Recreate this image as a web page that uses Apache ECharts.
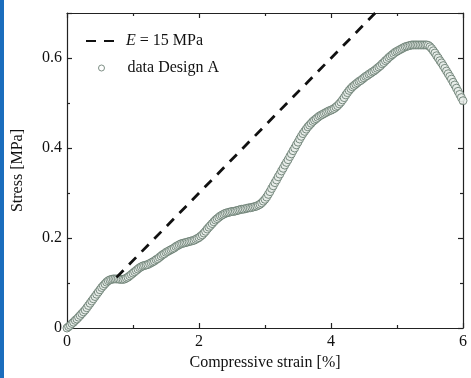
<!DOCTYPE html>
<html>
<head>
<meta charset="utf-8">
<script src="https://cdn.jsdelivr.net/npm/echarts@6/dist/echarts.min.js"></script>
<style>html,body{margin:0;padding:0;background:#fff;}#c{width:471px;height:378px;}</style>
</head>
<body>
<div id="c"></div>
<script>
// Compressive strain [%]
var strain = [
  0.000,0.025,0.050,0.075,0.100,0.125,0.150,0.175,0.200,0.225,0.250,0.275,0.300,0.325,0.350,0.375,0.400,0.425,0.450,0.475,
  0.500,0.525,0.550,0.575,0.600,0.625,0.650,0.675,0.700,0.725,0.750,0.775,0.800,0.825,0.850,0.875,0.900,0.925,0.950,0.975,
  1.000,1.025,1.050,1.075,1.100,1.125,1.150,1.175,1.200,1.225,1.250,1.275,1.300,1.325,1.350,1.375,1.400,1.425,1.450,1.475,
  1.500,1.525,1.550,1.575,1.600,1.625,1.650,1.675,1.700,1.725,1.750,1.775,1.800,1.825,1.850,1.875,1.900,1.925,1.950,1.975,
  2.000,2.025,2.050,2.075,2.100,2.125,2.150,2.175,2.200,2.225,2.250,2.275,2.300,2.325,2.350,2.375,2.400,2.425,2.450,2.475,
  2.500,2.525,2.550,2.575,2.600,2.625,2.650,2.675,2.700,2.725,2.750,2.775,2.800,2.825,2.850,2.875,2.900,2.925,2.950,2.975,
  3.000,3.025,3.050,3.075,3.100,3.125,3.150,3.175,3.200,3.225,3.250,3.275,3.300,3.325,3.350,3.375,3.400,3.425,3.450,3.475,
  3.500,3.525,3.550,3.575,3.600,3.625,3.650,3.675,3.700,3.725,3.750,3.775,3.800,3.825,3.850,3.875,3.900,3.925,3.950,3.975,
  4.000,4.025,4.050,4.075,4.100,4.125,4.150,4.175,4.200,4.225,4.250,4.275,4.300,4.325,4.350,4.375,4.400,4.425,4.450,4.475,
  4.500,4.525,4.550,4.575,4.600,4.625,4.650,4.675,4.700,4.725,4.750,4.775,4.800,4.825,4.850,4.875,4.900,4.925,4.950,4.975,
  5.000,5.025,5.050,5.075,5.100,5.125,5.150,5.175,5.200,5.225,5.250,5.275,5.300,5.325,5.350,5.375,5.400,5.425,5.450,5.475,
  5.500,5.525,5.550,5.575,5.600,5.625,5.650,5.675,5.700,5.725,5.750,5.775,5.800,5.825,5.850,5.875,5.900,5.925,5.950,5.975,
  6.000];
// Stress [MPa], data Design A
var stress = [
  0.000,0.003,0.006,0.010,0.013,0.017,0.020,0.024,0.028,0.032,0.036,0.040,0.045,0.050,0.055,0.060,0.065,0.070,0.075,0.080,
  0.085,0.090,0.094,0.098,0.102,0.105,0.107,0.108,0.109,0.109,0.109,0.109,0.108,0.108,0.108,0.109,0.111,0.113,0.116,0.119,
  0.122,0.125,0.128,0.131,0.134,0.136,0.138,0.139,0.140,0.141,0.143,0.145,0.147,0.149,0.152,0.154,0.157,0.160,0.163,0.165,
  0.168,0.170,0.172,0.174,0.176,0.178,0.181,0.183,0.185,0.187,0.188,0.189,0.190,0.191,0.192,0.193,0.194,0.195,0.197,0.199,
  0.201,0.204,0.207,0.211,0.215,0.220,0.224,0.228,0.232,0.236,0.240,0.243,0.246,0.249,0.251,0.253,0.255,0.256,0.257,0.258,
  0.259,0.259,0.260,0.261,0.262,0.263,0.264,0.264,0.265,0.266,0.267,0.267,0.268,0.269,0.270,0.271,0.273,0.275,0.278,0.282,
  0.286,0.291,0.297,0.303,0.310,0.316,0.323,0.329,0.336,0.342,0.349,0.355,0.362,0.368,0.374,0.381,0.387,0.394,0.400,0.407,
  0.413,0.420,0.426,0.432,0.437,0.442,0.447,0.451,0.455,0.459,0.462,0.465,0.468,0.471,0.473,0.475,0.477,0.479,0.481,0.483,
  0.484,0.486,0.488,0.491,0.494,0.498,0.502,0.507,0.512,0.518,0.523,0.528,0.532,0.536,0.539,0.542,0.545,0.548,0.550,0.553,
  0.556,0.559,0.561,0.564,0.566,0.569,0.571,0.574,0.577,0.580,0.583,0.587,0.590,0.594,0.597,0.601,0.604,0.607,0.610,0.613,
  0.615,0.617,0.619,0.621,0.623,0.625,0.626,0.627,0.628,0.629,0.629,0.629,0.629,0.629,0.629,0.629,0.629,0.629,0.629,0.628,
  0.625,0.621,0.616,0.611,0.605,0.600,0.594,0.589,0.583,0.577,0.571,0.565,0.559,0.553,0.546,0.540,0.533,0.526,0.519,0.512,
  0.505];
// E = 15 MPa reference line endpoints [strain %, stress MPa]
var modStrain = [0.75, 4.67];
var modStress = [0.1125, 0.70];
var xTicks = [0, 2, 4, 6];
var yTicks = [0, 0.2, 0.4, 0.6];
var seriesNames = ['E = 15 MPa', 'data Design A'];

var FONT = 'Liberation Serif';
var chart = echarts.init(document.getElementById('c'), null, {renderer: 'canvas'});
var dataPts = strain.map(function (s, i) { return [s, stress[i]]; });
var modPts = modStrain.map(function (s, i) { return [s, modStress[i]]; });
var axisLine = {show: true, onZero: false, lineStyle: {color: '#222', width: 1.2}};
var tickCfg = {show: true, inside: true, length: 5, lineStyle: {color: '#222', width: 1.2}};
var minorCfg = {show: true, splitNumber: 2, length: 3, lineStyle: {color: '#222', width: 1.2}};
chart.setOption({
  backgroundColor: '#ffffff',
  animation: false,
  graphic: [{type: 'rect', left: 0, top: 0, shape: {width: 4, height: 378}, style: {fill: '#1a6dbd'}}],
  grid: {left: 67, top: 13, right: 8, bottom: 50, containLabel: false},
  legend: [
    {data: [seriesNames[0]], orient: 'vertical', left: 85, top: 33, padding: 0, itemWidth: 28, itemHeight: 14,
     itemStyle: {opacity: 0},
     formatter: function () { return '{i|E} = 15 MPa'; },
     textStyle: {fontFamily: FONT, fontSize: 16, color: '#111', padding: [0, 0, 0, 7],
       rich: {i: {fontFamily: FONT, fontStyle: 'italic', fontSize: 16, color: '#111'}}}},
    {data: [seriesNames[1]], orient: 'vertical', left: 98, top: 60, padding: 0, itemWidth: 6, itemHeight: 6,
     itemStyle: {color: '#ffffff', borderColor: '#5f7468', borderWidth: 1},
     textStyle: {fontFamily: FONT, fontSize: 16, color: '#111', padding: [0, 0, 0, 18]}}
  ],
  xAxis: [
    {type: 'value', min: xTicks[0], max: xTicks[xTicks.length - 1], interval: 2, position: 'bottom',
     name: 'Compressive strain [%]', nameLocation: 'middle', nameGap: 26,
     nameTextStyle: {fontFamily: FONT, fontSize: 16, color: '#111'},
     axisLine: axisLine, axisTick: tickCfg, minorTick: minorCfg, splitLine: {show: false},
     axisLabel: {fontFamily: FONT, fontSize: 16, color: '#111', margin: 6}},
    {type: 'value', min: xTicks[0], max: xTicks[xTicks.length - 1], interval: 2, position: 'top',
     axisLine: axisLine, axisTick: tickCfg, minorTick: minorCfg, splitLine: {show: false},
     axisLabel: {show: false}}
  ],
  yAxis: [
    {type: 'value', min: 0, max: 0.7, interval: 0.2, position: 'left',
     name: 'Stress [MPa]', nameLocation: 'middle', nameGap: 41,
     nameTextStyle: {fontFamily: FONT, fontSize: 16, color: '#111'},
     axisLine: axisLine, axisTick: tickCfg, minorTick: minorCfg, splitLine: {show: false},
     axisLabel: {fontFamily: FONT, fontSize: 16, color: '#111', margin: 5,
       formatter: function (v) { return yTicks.indexOf(Math.round(v * 10) / 10) >= 0 ? (v === 0 ? '0' : v.toFixed(1)) : ''; }}},
    {type: 'value', min: 0, max: 0.7, interval: 0.2, position: 'right',
     axisLine: axisLine, axisTick: tickCfg, minorTick: minorCfg, splitLine: {show: false},
     axisLabel: {show: false}}
  ],
  series: [
    {name: seriesNames[0], type: 'line', data: modPts, symbol: 'none', silent: true,
     lineStyle: {color: '#111', width: 2.8, type: [10, 8]}, itemStyle: {color: '#111'}},
    {name: seriesNames[1], type: 'scatter', data: dataPts, symbol: 'circle', symbolSize: 8,
     itemStyle: {color: '#e9eeea', borderColor: '#5f7468', borderWidth: 1}}
  ]
});
</script>
</body>
</html>
